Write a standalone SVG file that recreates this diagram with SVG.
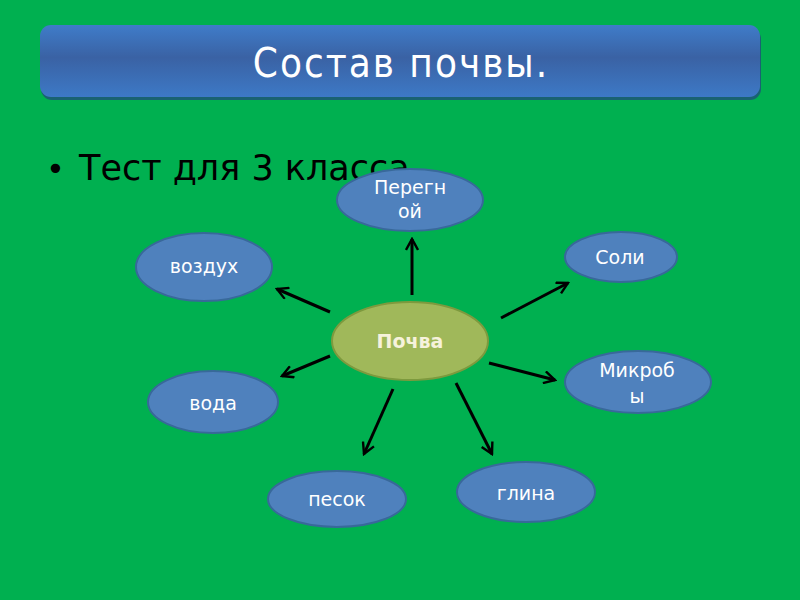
<svg xmlns="http://www.w3.org/2000/svg" width="800" height="600" viewBox="0 0 800 600">
<defs>
<linearGradient id="tg" x1="0" y1="0" x2="0" y2="1">
<stop offset="0" stop-color="#3f7cc9"/>
<stop offset="0.45" stop-color="#3a62a4"/>
<stop offset="1" stop-color="#3d79c6"/>
</linearGradient>
<marker id="ah" viewBox="0 0 14 14" refX="12" refY="7" markerWidth="14" markerHeight="14" markerUnits="userSpaceOnUse" orient="auto">
<polyline points="1,1 12,7 1,13" fill="none" stroke="#000" stroke-width="2.4"/>
</marker>
<style>
.n{fill:#4f81bd;stroke:#38699a;stroke-width:2}
.c{fill:#a0b85a;stroke:#7d9a3e;stroke-width:2}
.t{font-family:"DejaVu Sans",sans-serif;font-size:19px;fill:#fff;text-anchor:middle}
.e line{stroke:#000;stroke-width:3;marker-end:url(#ah)}
</style>
</defs>
<rect width="800" height="600" fill="#00b050"/>
<rect x="41" y="28" width="720" height="72" rx="11" fill="#1f4f7a" opacity="0.8"/>
<rect x="40" y="25" width="720" height="72" rx="11" fill="url(#tg)"/>
<text x="401" y="77" font-family="DejaVu Sans Condensed, DejaVu Sans, sans-serif" font-size="40" letter-spacing="2" fill="#fff" text-anchor="middle">Состав почвы.</text>
<text x="46" y="180" font-family="DejaVu Sans, sans-serif" font-size="32" fill="#000">•</text>
<text x="79" y="180" font-family="DejaVu Sans, sans-serif" font-size="35" fill="#000">Тест для 3 класса</text>
<g class="e" id="edges">
<line x1="412" y1="295" x2="412" y2="239"/>
<line x1="330" y1="312" x2="277" y2="289"/>
<line x1="501" y1="318" x2="568" y2="283"/>
<line x1="489" y1="363" x2="555" y2="380"/>
<line x1="330" y1="356" x2="282" y2="376"/>
<line x1="393" y1="389" x2="364" y2="454"/>
<line x1="456" y1="383" x2="492" y2="454"/>
</g>
<g id="peregnoy"><ellipse class="n" cx="410" cy="200" rx="73" ry="31"/><text class="t" x="410" y="194">Перегн</text><text class="t" x="410" y="218">ой</text></g>
<g id="vozduh"><ellipse class="n" cx="204" cy="267" rx="68" ry="34"/><text class="t" x="204" y="273">воздух</text></g>
<g id="soli"><ellipse class="n" cx="621" cy="257" rx="56" ry="25"/><text class="t" x="620" y="264">Соли</text></g>
<g id="mikroby"><ellipse class="n" cx="638" cy="382" rx="73" ry="31"/><text class="t" x="637" y="377">Микроб</text><text class="t" x="637" y="403">ы</text></g>
<g id="voda"><ellipse class="n" cx="213" cy="402" rx="65" ry="31"/><text class="t" x="213" y="410">вода</text></g>
<g id="pesok"><ellipse class="n" cx="337" cy="499" rx="69" ry="28"/><text class="t" x="337" y="506">песок</text></g>
<g id="glina"><ellipse class="n" cx="526" cy="492" rx="69" ry="30"/><text class="t" x="526" y="500">глина</text></g>
<g id="pochva"><ellipse class="c" cx="410" cy="341" rx="78" ry="39"/><text class="t" x="410" y="348" font-weight="bold" style="fill:#f6f2dc">Почва</text></g>
</svg>
